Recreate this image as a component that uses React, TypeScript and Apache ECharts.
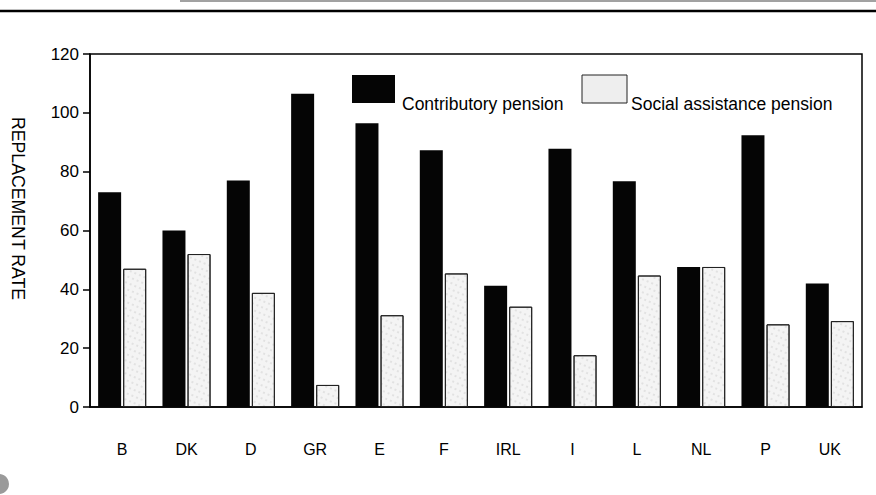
import React, { useEffect, useRef } from "react";
import * as echarts from "echarts";

const categories = ["B", "DK", "D", "GR", "E", "F", "IRL", "I", "L", "NL", "P", "UK"];
const contributory = [73, 60, 77, 106.5, 96.5, 87.3, 41.2, 87.8, 76.7, 47.6, 92.4, 42];
const socialAssistance = [47, 52, 38.8, 7.5, 31.2, 45.4, 34.1, 17.6, 44.7, 47.6, 28.1, 29.2];
const seriesNames = ["Contributory pension", "Social assistance pension"];
const yAxisTitle = "REPLACEMENT RATE";

const FONT = "'Liberation Sans', Arial, Helvetica, sans-serif";
const SOCIAL_DECAL = {
  symbol: "circle",
  symbolSize: 0.6,
  color: "rgba(0,0,0,0.22)",
  dashArrayX: [2, 3],
  dashArrayY: [2, 4],
  rotation: 0.4,
};

export default function App() {
  const ref = useRef<HTMLDivElement>(null);
  useEffect(() => {
    if (!ref.current) return;
    const chart = echarts.init(ref.current, undefined, { renderer: "svg" });
    chart.setOption({
      animation: false,
      backgroundColor: "#ffffff",
      grid: {
        left: 90,
        right: 14,
        top: 54,
        bottom: 88,
        show: true,
        borderColor: "#000",
        borderWidth: 1.5,
        containLabel: false,
      },
      legend: { show: false, data: seriesNames },
      xAxis: {
        type: "category",
        data: categories,
        axisLine: { show: true, lineStyle: { color: "#000", width: 1.5 } },
        axisTick: { show: false },
        axisLabel: {
          show: true,
          color: "#000",
          fontSize: 16,
          fontFamily: FONT,
          margin: 34,
          formatter: (v: string) => "{c|" + v + "}",
          rich: { c: { fontSize: 16, fontFamily: FONT, color: "#000" } },
        },
        splitLine: { show: false },
      },
      yAxis: {
        type: "value",
        min: 0,
        max: 120,
        interval: 20,
        axisLine: { show: true, lineStyle: { color: "#000", width: 1.5 } },
        axisTick: { show: true, length: 7, lineStyle: { color: "#000", width: 1.5 } },
        axisLabel: {
          show: true,
          color: "#000",
          fontSize: 17,
          fontFamily: FONT,
          margin: 11,
          formatter: (v: number) => "{v|" + v + "}",
          rich: { v: { fontSize: 17, fontFamily: FONT, color: "#000" } },
        },
        splitLine: { show: false },
      },
      series: [
        {
          name: seriesNames[0],
          type: "bar",
          data: contributory,
          barWidth: 23,
          barGap: "9%",
          itemStyle: { color: "#050505" },
        },
        {
          name: seriesNames[1],
          type: "bar",
          data: socialAssistance,
          barWidth: 23,
          itemStyle: {
            color: "#f4f4f4",
            borderColor: "#222",
            borderWidth: 1,
            decal: SOCIAL_DECAL,
          },
        },
      ],
      graphic: [
        {
          type: "text",
          left: 9,
          top: 117,
          rotation: -Math.PI / 2,
          style: {
            text: yAxisTitle,
            fontSize: 17.7,
            fill: "#000",
            fontFamily: FONT,
          },
        },
        {
          type: "rect",
          shape: { x: 352, y: 75, width: 43, height: 28 },
          style: { fill: "#050505" },
        },
        {
          type: "text",
          x: 402,
          y: 104,
          style: {
            text: seriesNames[0],
            fontSize: 17.5,
            fill: "#000",
            fontFamily: FONT,
            verticalAlign: "middle",
          },
        },
        {
          type: "rect",
          shape: { x: 582, y: 75, width: 45, height: 28 },
          style: { fill: "#eeeeee", stroke: "#222", lineWidth: 1 },
        },
        {
          type: "text",
          x: 631,
          y: 104,
          style: {
            text: seriesNames[1],
            fontSize: 17.5,
            fill: "#000",
            fontFamily: FONT,
            verticalAlign: "middle",
          },
        },
        {
          type: "line",
          shape: { x1: 0, y1: 11, x2: 876, y2: 11 },
          style: { stroke: "#000", lineWidth: 2.5 },
        },
        {
          type: "line",
          shape: { x1: 180, y1: 1, x2: 876, y2: 1 },
          style: { stroke: "#444", lineWidth: 1 },
        },
        {
          type: "circle",
          shape: { cx: -1, cy: 484, r: 10 },
          style: { fill: "#9a9a9a" },
        },
      ],
    });
    return () => chart.dispose();
  }, []);
  return <div ref={ref} style={{ width: 876, height: 495, position: "absolute", left: 0, top: 0 }} />;
}
